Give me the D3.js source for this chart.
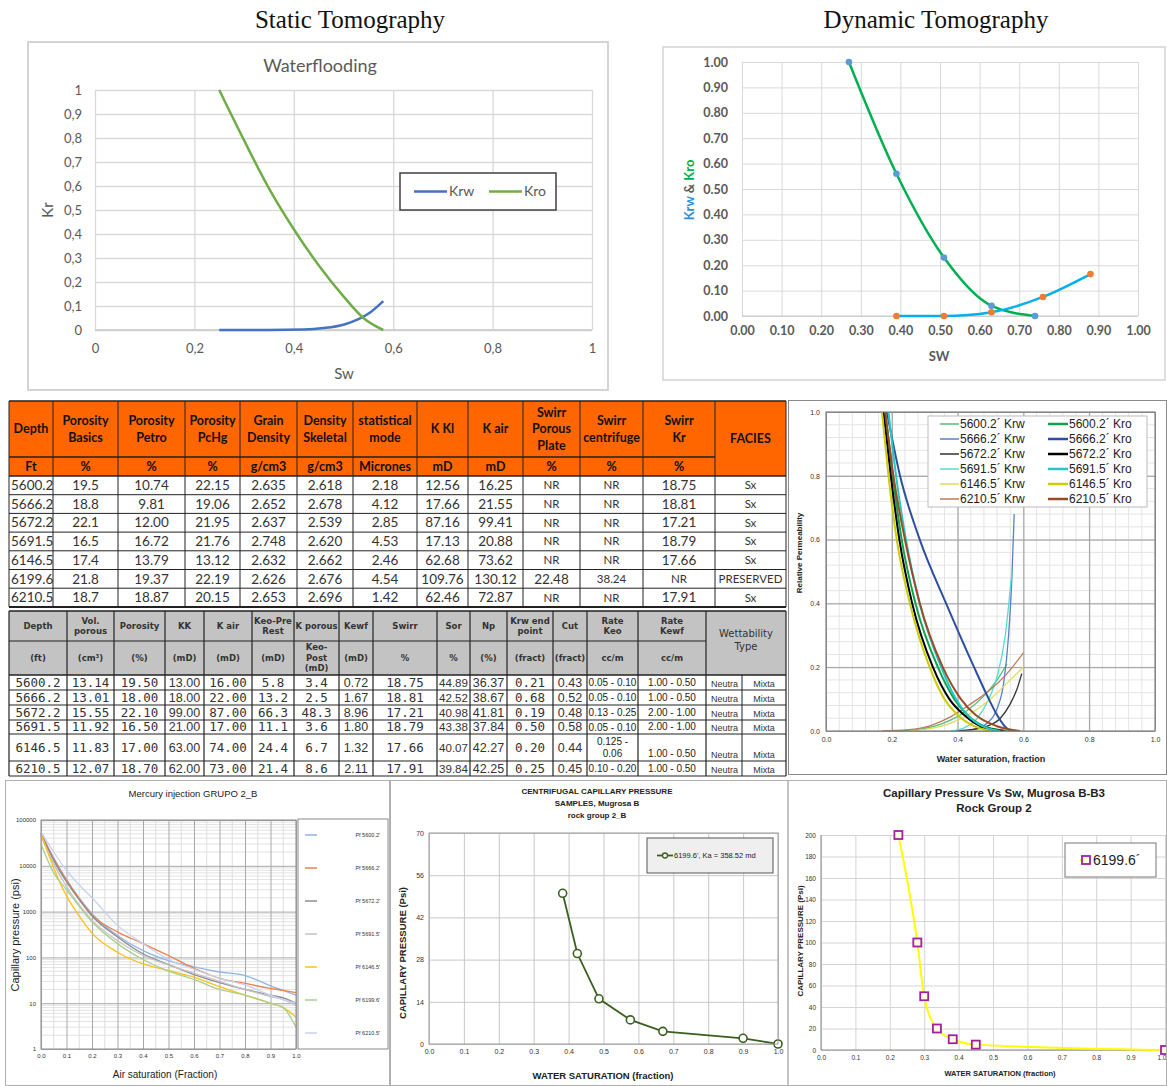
<!DOCTYPE html>
<html>
<head>
<meta charset="utf-8">
<script src="https://cdn.jsdelivr.net/npm/d3@7"></script>
<style>
  body { margin: 0; background: #fff; }
  svg { display: block; }
</style>
</head>
<body>
<svg id="fig"></svg>
<script>
const W = 1167, H = 1086
const SANS = "'Liberation Sans', Arial, sans-serif"
const LATO = "Lato, 'Open Sans', sans-serif"
const SERIF = "'Liberation Serif', 'Times New Roman', serif"
const MONO = "'DejaVu Sans Mono', monospace"
const VERD = "'DejaVu Sans', Verdana, sans-serif"

// ---- static tomography (waterflooding) ----
const wfXTicks = [0, 0.2, 0.4, 0.6, 0.8, 1]
const wfYTicks = [0, 0.1, 0.2, 0.3, 0.4, 0.5, 0.6, 0.7, 0.8, 0.9, 1]
const wfKro = [[0.25, 1.0], [0.30, 0.79], [0.35, 0.59], [0.40, 0.42], [0.45, 0.27], [0.50, 0.14], [0.54, 0.05], [0.58, 0.0]]
const wfKrw = [[0.25, 0], [0.35, 0], [0.42, 0.002], [0.46, 0.008], [0.50, 0.022], [0.53, 0.045], [0.555, 0.075], [0.58, 0.12]]

// ---- dynamic tomography ----
const dynTicks = [0, 0.1, 0.2, 0.3, 0.4, 0.5, 0.6, 0.7, 0.8, 0.9, 1]
const dynKroSw = [0.27, 0.39, 0.51, 0.63, 0.74]
const dynKro = [1.0, 0.56, 0.23, 0.04, 0.0]
const dynKrwSw = [0.39, 0.51, 0.63, 0.76, 0.88]
const dynKrw = [0.0, 0.0, 0.015, 0.075, 0.165]

// ---- table 1 ----
const t1Head = ['Depth', 'Porosity\nBasics', 'Porosity\nPetro', 'Porosity\nPcHg', 'Grain\nDensity', 'Density\nSkeletal',
  'statistical\nmode', 'K Kl', 'K air', 'Swirr\nPorous\nPlate', 'Swirr\ncentrifuge', 'Swirr\nKr', 'FACIES']
const t1Units = ['Ft', '%', '%', '%', 'g/cm3', 'g/cm3', 'Micrones', 'mD', 'mD', '%', '%', '%']
const t1Rows = [
  ['5600.2', '19.5', '10.74', '22.15', '2.635', '2.618', '2.18', '12.56', '16.25', 'NR', 'NR', '18.75', 'Sx'],
  ['5666.2', '18.8', '9.81', '19.06', '2.652', '2.678', '4.12', '17.66', '21.55', 'NR', 'NR', '18.81', 'Sx'],
  ['5672.2', '22.1', '12.00', '21.95', '2.637', '2.539', '2.85', '87.16', '99.41', 'NR', 'NR', '17.21', 'Sx'],
  ['5691.5', '16.5', '16.72', '21.76', '2.748', '2.620', '4.53', '17.13', '20.88', 'NR', 'NR', '18.79', 'Sx'],
  ['6146.5', '17.4', '13.79', '13.12', '2.632', '2.662', '2.46', '62.68', '73.62', 'NR', 'NR', '17.66', 'Sx'],
  ['6199.6', '21.8', '19.37', '22.19', '2.626', '2.676', '4.54', '109.76', '130.12', '22.48', '38.24', 'NR', 'PRESERVED'],
  ['6210.5', '18.7', '18.87', '20.15', '2.653', '2.696', '1.42', '62.46', '72.87', 'NR', 'NR', '17.91', 'Sx']
]
const t1Cols = [9, 53, 118, 185, 240, 297, 353, 417, 468, 523, 580, 643, 715, 786]

// ---- table 2 ----
const t2Head = ['Depth', 'Vol.\nporous', 'Porosity', 'KK', 'K air', 'Keo-Pre\nRest', 'K porous', 'Kewf', 'Swirr', 'Sor', 'Np',
  'Krw end\npoint', 'Cut', 'Rate\nKeo', 'Rate\nKewf', 'Wettability\nType']
const t2Units = ['(ft)', '(cm³)', '(%)', '(mD)', '(mD)', '(mD)', 'Keo-\nPost\n(mD)', '(mD)', '%', '%', '(%)', '(fract)', '(fract)', 'cc/m', 'cc/m']
const t2Rows = [
  ['5600.2', '13.14', '19.50', '13.00', '16.00', '5.8', '3.4', '0.72', '18.75', '44.89', '36.37', '0.21', '0.43', '0.05 - 0.10', '1.00 - 0.50', 'Neutra', 'Mixta'],
  ['5666.2', '13.01', '18.00', '18.00', '22.00', '13.2', '2.5', '1.67', '18.81', '42.52', '38.67', '0.68', '0.52', '0.05 - 0.10', '1.00 - 0.50', 'Neutra', 'Mixta'],
  ['5672.2', '15.55', '22.10', '99.00', '87.00', '66.3', '48.3', '8.96', '17.21', '40.98', '41.81', '0.19', '0.48', '0.13 - 0.25', '2.00 - 1.00', 'Neutra', 'Mixta'],
  ['5691.5', '11.92', '16.50', '21.00', '17.00', '11.1', '3.6', '1.80', '18.79', '43.38', '37.84', '0.50', '0.58', '0.05 - 0.10', '2.00 - 1.00', 'Neutra', 'Mixta'],
  ['6146.5', '11.83', '17.00', '63.00', '74.00', '24.4', '6.7', '1.32', '17.66', '40.07', '42.27', '0.20', '0.44', '0.125 -\n0.06', '1.00 - 0.50', 'Neutra', 'Mixta'],
  ['6210.5', '12.07', '18.70', '62.00', '73.00', '21.4', '8.6', '2.11', '17.91', '39.84', '42.25', '0.25', '0.45', '0.10 - 0.20', '1.00 - 0.50', 'Neutra', 'Mixta']
]
const t2Cols = [9, 67, 114, 165, 204, 252, 294, 339, 373, 437, 470, 507, 553, 587, 638, 706, 786]
const t2RowH = [15, 15, 15, 14, 27, 15]

// ---- relative permeability ----
const rpSamples = ['5600.2', '5666.2', '5672.2', '5691.5', '6146.5', '6210.5']
const rpKrwColors = ['#4cc07a', '#5b7fc8', '#333333', '#55dcd4', '#dede5a', '#c07a5a']
const rpKroColors = ['#12a24e', '#2c4f9e', '#000000', '#22c8c6', '#cccc00', '#9c4a26']
const rpKro = [
  [[0.18, 1.0], [0.203, 0.8], [0.23, 0.6], [0.272, 0.4], [0.34, 0.2], [0.39, 0.1], [0.43, 0.05], [0.48, 0.015], [0.55, 0]],
  [[0.185, 1.0], [0.225, 0.8], [0.285, 0.6], [0.365, 0.4], [0.45, 0.2], [0.495, 0.1], [0.52, 0.05], [0.543, 0.015], [0.56, 0]],
  [[0.175, 1.0], [0.197, 0.8], [0.223, 0.6], [0.262, 0.4], [0.325, 0.2], [0.375, 0.1], [0.42, 0.05], [0.47, 0.015], [0.54, 0]],
  [[0.19, 1.0], [0.213, 0.8], [0.243, 0.6], [0.285, 0.4], [0.35, 0.2], [0.395, 0.1], [0.43, 0.05], [0.475, 0.015], [0.53, 0]],
  [[0.17, 1.0], [0.19, 0.8], [0.215, 0.6], [0.255, 0.4], [0.315, 0.2], [0.36, 0.1], [0.40, 0.05], [0.45, 0.015], [0.50, 0]],
  [[0.18, 1.0], [0.205, 0.8], [0.24, 0.6], [0.285, 0.4], [0.355, 0.2], [0.41, 0.1], [0.455, 0.05], [0.52, 0.015], [0.59, 0]]
]
const rpKrw = [
  [[0.22, 0], [0.28, 0.005], [0.33, 0.015], [0.38, 0.035], [0.43, 0.065], [0.48, 0.11], [0.52, 0.16], [0.55, 0.21]],
  [[0.40, 0], [0.45, 0.005], [0.49, 0.025], [0.52, 0.07], [0.54, 0.15], [0.555, 0.3], [0.565, 0.48], [0.572, 0.68]],
  [[0.38, 0], [0.44, 0.004], [0.49, 0.015], [0.53, 0.04], [0.56, 0.085], [0.58, 0.13], [0.595, 0.18]],
  [[0.38, 0], [0.42, 0.01], [0.46, 0.04], [0.49, 0.09], [0.52, 0.17], [0.545, 0.3], [0.565, 0.5]],
  [[0.25, 0], [0.32, 0.008], [0.38, 0.025], [0.44, 0.055], [0.50, 0.1], [0.55, 0.15], [0.60, 0.2]],
  [[0.17, 0], [0.25, 0.004], [0.32, 0.018], [0.38, 0.045], [0.44, 0.085], [0.50, 0.13], [0.55, 0.18], [0.60, 0.245]]
]

// ---- mercury injection ----
const merSamples = ['Pf 5600.2\'', 'Pf 5666.2\'', 'Pf 5672.2\'', 'Pf 5691.5\'', 'Pf 6146.5\'', 'Pf 6199.6\'', 'Pf 6210.5\'']
const merColors = ['#8fb6e4', '#ef7f4c', '#8c8c8c', '#c4c4c4', '#ffbf1a', '#a8d08c', '#c6d2f0']
const merSat = [0, 0.05, 0.1, 0.15, 0.2, 0.3, 0.4, 0.5, 0.6, 0.7, 0.8, 0.9, 0.95, 1.0]
const merPc = [
  [50000, 15000, 5000, 2000, 900, 300, 140, 85, 62, 48, 40, 24, 19, 15],
  [52000, 14000, 4800, 1900, 850, 360, 200, 110, 58, 35, 27, 21, 19, 17],
  [50000, 13000, 4500, 1800, 800, 280, 120, 70, 42, 28, 20, 15, 13, 10],
  [45000, 11000, 3500, 1400, 650, 230, 110, 68, 45, 30, 20, 14, 12, 9],
  [50000, 9000, 2200, 800, 340, 130, 72, 52, 37, 23, 15, 10, 8, 5],
  [30000, 7000, 3000, 1300, 600, 200, 90, 50, 33, 20, 15, 10, 8, 3],
  [55000, 20000, 8000, 3800, 2000, 500, 200, 90, 55, 35, 25, 15, 12, 10]
]
const merYTicks = [1, 10, 100, 1000, 10000, 100000]
const satTicks = [0, 0.1, 0.2, 0.3, 0.4, 0.5, 0.6, 0.7, 0.8, 0.9, 1]

// ---- centrifugal capillary pressure ----
const cenSw = [0.383, 0.425, 0.487, 0.577, 0.67, 0.9, 1.0]
const cenPc = [50, 30, 15, 8, 4.2, 1.9, 0]
const cenYTicks = [0, 14, 28, 42, 56, 70]

// ---- capillary pressure rock group 2 ----
const rgSw = [0.225, 0.28, 0.30, 0.337, 0.383, 0.45, 1.0]
const rgPc = [200, 100, 50, 20, 10, 5, 0]
const rgYTicks = [0, 20, 40, 60, 80, 100, 120, 140, 160, 180, 200]

const svg = d3.select('#fig').attr('width', W).attr('height', H)
svg.append('rect').attr('width', W).attr('height', H).attr('fill', '#fff')

// o.fit shrinks the font when a line is wider than o.fit
function label(g, x, y, s, o = {}) {
  const size = o.size || 12
  const lines = String(s).split('\n')
  const lh = o.lh || size * 1.2
  const el = g.append('text')
    .attr('font-family', o.font || SANS)
    .attr('font-size', size)
    .attr('font-weight', o.weight || 'normal')
    .attr('fill', o.fill || '#222')
    .attr('text-anchor', o.anchor || 'middle')
  if (o.rotate) el.attr('transform', `translate(${x},${y}) rotate(${o.rotate})`)
  const bx = o.rotate ? 0 : x, by = o.rotate ? 0 : y
  const off = o.valign === 'bottom' ? -(lines.length - 1) * lh : -(lines.length - 1) * lh / 2
  lines.forEach((ln, i) => {
    const ts = el.append('tspan').attr('x', bx).attr('y', by + off + i * lh)
      .attr('dy', o.valign === 'bottom' ? 0 : '0.35em').text(ln)
    const w = ts.node().getComputedTextLength()
    if (o.fit && w > o.fit) ts.attr('font-size', size * o.fit / w)
  })
  return el
}

function styleAxis(a, o) {
  a.select('.domain').remove()
  a.selectAll('.tick line').attr('stroke', o.grid || '#d9d9d9').attr('stroke-width', o.gw || 1)
  a.selectAll('.tick text').attr('font-family', o.font || SANS).attr('font-size', o.size || 10)
    .attr('font-weight', o.weight || 'normal').attr('fill', o.fill || '#333')
}

function frame(x0, y0, x1, y1, stroke, sw) {
  svg.append('rect').attr('x', x0).attr('y', y0).attr('width', x1 - x0).attr('height', y1 - y0)
    .attr('fill', 'none').attr('stroke', stroke).attr('stroke-width', sw || 1)
}

// ================= titles =================
label(svg, 350, 19, 'Static Tomography', { font: SERIF, size: 25, fill: '#111' })
label(svg, 936, 19, 'Dynamic Tomography', { font: SERIF, size: 25, fill: '#111' })

// ================= waterflooding =================
function drawWaterflooding() {
  const g = svg.append('g')
  frame(28, 42, 608, 390, '#d4d4d4', 2)
  const x = d3.scaleLinear().domain([0, 1]).range([95, 592])
  const y = d3.scaleLinear().domain([0, 1]).range([330, 90])
  const fmt = d => (d === 0 || d === 1) ? String(d) : d3.format('.1f')(d).replace('.', ',')
  const ts = { grid: '#d9d9d9', gw: 1.3, font: LATO, size: 13, fill: '#595959' }
  g.append('g').call(d3.axisLeft(y).tickValues(wfYTicks).tickFormat(fmt).tickSize(-(592 - 95)).tickPadding(13))
    .attr('transform', 'translate(95,0)').call(a => styleAxis(a, ts))
  g.append('g').attr('transform', 'translate(0,330)')
    .call(d3.axisBottom(x).tickValues(wfXTicks).tickFormat(fmt).tickSize(-(330 - 90)).tickPadding(14))
    .call(a => styleAxis(a, ts))
  g.append('line').attr('x1', 95).attr('x2', 592).attr('y1', 330).attr('y2', 330).attr('stroke', '#c8c8c8').attr('stroke-width', 1.5)
  label(g, 320, 66, 'Waterflooding', { font: LATO, size: 18, fill: '#595959' })
  label(g, 344, 374, 'Sw', { font: LATO, size: 15, fill: '#595959' })
  label(g, 48, 210, 'Kr', { font: LATO, size: 15, fill: '#595959', rotate: -90 })
  const line = d3.line().x(d => x(d[0])).y(d => y(d[1])).curve(d3.curveMonotoneX)
  g.append('path').attr('d', line(wfKrw)).attr('fill', 'none').attr('stroke', '#4472c4').attr('stroke-width', 2.5)
  g.append('path').attr('d', line(wfKro)).attr('fill', 'none').attr('stroke', '#70ad47').attr('stroke-width', 2.5)
  // legend
  g.append('rect').attr('x', 400).attr('y', 173).attr('width', 156).attr('height', 37)
    .attr('fill', '#fff').attr('stroke', '#404040').attr('stroke-width', 1.5)
  const leg = [['Krw', '#4472c4', 414], ['Kro', '#70ad47', 489]]
  leg.forEach(([t, c, lx]) => {
    g.append('line').attr('x1', lx).attr('x2', lx + 33).attr('y1', 191.5).attr('y2', 191.5).attr('stroke', c).attr('stroke-width', 2.5)
    label(g, lx + 35, 191.5, t, { font: LATO, size: 14, fill: '#595959', anchor: 'start' })
  })
}
drawWaterflooding()

// ================= dynamic tomography =================
function drawDynamic() {
  const g = svg.append('g')
  frame(663, 47, 1165, 380, '#d4d4d4', 1.5)
  const x = d3.scaleLinear().domain([0, 1]).range([742, 1138])
  const y = d3.scaleLinear().domain([0, 1]).range([316, 62])
  const ts = { grid: '#d9d9d9', gw: 1, font: LATO, size: 12.5, weight: 'bold', fill: '#595959' }
  g.append('g').attr('transform', 'translate(742,0)')
    .call(d3.axisLeft(y).tickValues(dynTicks).tickFormat(d3.format('.2f')).tickSize(-(1138 - 742)).tickPadding(14))
    .call(a => styleAxis(a, ts))
  g.append('g').attr('transform', 'translate(0,316)')
    .call(d3.axisBottom(x).tickValues(dynTicks).tickFormat(d3.format('.2f')).tickSize(-(316 - 62)).tickPadding(10))
    .call(a => styleAxis(a, ts))
  g.append('line').attr('x1', 742).attr('x2', 1138).attr('y1', 316).attr('y2', 316).attr('stroke', '#c8c8c8')
  label(g, 939, 356, 'SW', { font: LATO, size: 13, weight: 'bold', fill: '#595959' })
  const yl = g.append('text').attr('transform', 'translate(689,190) rotate(-90)').attr('text-anchor', 'middle')
    .attr('font-family', LATO).attr('font-weight', 'bold').attr('font-size', 13).attr('dy', '0.35em')
  yl.append('tspan').attr('fill', '#2f8fd8').text('Krw')
  yl.append('tspan').attr('fill', '#595959').text(' & ')
  yl.append('tspan').attr('fill', '#00b050').text('Kro')
  const kro = dynKroSw.map((s, i) => [s, dynKro[i]])
  const krw = dynKrwSw.map((s, i) => [s, dynKrw[i]])
  const line = d3.line().x(d => x(d[0])).y(d => y(d[1])).curve(d3.curveMonotoneX)
  g.append('path').attr('d', line(kro)).attr('fill', 'none').attr('stroke', '#00b050').attr('stroke-width', 2.5)
  g.append('path').attr('d', line(krw)).attr('fill', 'none').attr('stroke', '#00b0f0').attr('stroke-width', 2.5)
  g.selectAll('.mo').data(kro).join('circle').attr('cx', d => x(d[0])).attr('cy', d => y(d[1])).attr('r', 3.3).attr('fill', '#5b9bd5')
  g.selectAll('.mw').data(krw).join('circle').attr('cx', d => x(d[0])).attr('cy', d => y(d[1])).attr('r', 3.3).attr('fill', '#ed7d31')
}
drawDynamic()

// ================= table 1 =================
function drawTable1() {
  const g = svg.append('g')
  const x = t1Cols, top = 401, mid = 457, dataTop = 476, rh = 18.7
  const bottom = dataTop + rh * t1Rows.length
  const x0 = x[0], x1 = x[x.length - 1]
  g.append('rect').attr('x', x0).attr('y', top).attr('width', x1 - x0).attr('height', dataTop - top).attr('fill', '#ff6600')
  t1Head.forEach((h, i) => {
    const cx = (x[i] + x[i + 1]) / 2
    const cy = i === t1Head.length - 1 ? (top + dataTop) / 2 : (top + mid) / 2
    label(g, cx, cy, h, { font: LATO, size: 12.5, weight: 'bold', fill: '#111', lh: 16.5, fit: x[i + 1] - x[i] - 3 })
  })
  t1Units.forEach((u, i) => label(g, (x[i] + x[i + 1]) / 2, (mid + dataTop) / 2, u,
    { font: LATO, size: 12.5, weight: 'bold', fill: '#111', fit: x[i + 1] - x[i] - 3 }))
  t1Rows.forEach((r, ri) => r.forEach((v, ci) => {
    const cy = dataTop + rh * (ri + 0.5)
    const small = ['NR', 'Sx', 'PRESERVED', '38.24'].includes(v) && ci >= 9
    if (ci === 0) label(g, x[0] + 2, cy, v, { font: LATO, size: 13.5, fill: '#333', anchor: 'start' })
    else label(g, (x[ci] + x[ci + 1]) / 2, cy, v, { font: LATO, size: small ? 11.5 : 13.5, fill: '#333', fit: x[ci + 1] - x[ci] - 3 })
  }))
  const ln = (a, b, c, d, w) => g.append('line').attr('x1', a).attr('y1', b).attr('x2', c).attr('y2', d)
    .attr('stroke', '#222').attr('stroke-width', w || 1)
  x.forEach(xx => ln(xx, top, xx, bottom, 1))
  ln(x0, top, x1, top, 1.5)
  ln(x0, mid, x[x.length - 2], mid, 1.5)
  ln(x0, dataTop, x1, dataTop, 1.5)
  t1Rows.forEach((r, ri) => ln(x0, dataTop + rh * (ri + 1), x1, dataTop + rh * (ri + 1), 1))
  ln(x0, bottom, x1, bottom, 2)
}
drawTable1()

// ================= table 2 =================
function drawTable2() {
  const g = svg.append('g')
  const x = t2Cols, top = 611, mid = 641, dataTop = 675
  const x0 = x[0], x1 = x[x.length - 1]
  const rowY = [dataTop]
  t2RowH.forEach(h => rowY.push(rowY[rowY.length - 1] + h))
  const bottom = rowY[rowY.length - 1]
  const wetSplit = 742
  g.append('rect').attr('x', x0).attr('y', top).attr('width', x1 - x0).attr('height', dataTop - top).attr('fill', '#c3c3c3')
  t2Head.forEach((h, i) => {
    const cx = (x[i] + x[i + 1]) / 2
    if (i === t2Head.length - 1)
      label(g, cx, (top + dataTop) / 2 - 3, h, { font: VERD, size: 10, fill: '#333', lh: 13 })
    else label(g, cx, (top + mid) / 2, h, { font: VERD, size: 8.5, weight: 'bold', fill: '#333', lh: 10.5, fit: x[i + 1] - x[i] - 3 })
  })
  t2Units.forEach((u, i) => label(g, (x[i] + x[i + 1]) / 2, (mid + dataTop) / 2, u,
    { font: VERD, size: 8.5, weight: 'bold', fill: '#333', lh: 10.5, fit: x[i + 1] - x[i] - 3 }))
  t2Rows.forEach((r, ri) => {
    const yT = rowY[ri], yB = rowY[ri + 1], cy = (yT + yB) / 2
    r.forEach((v, ci) => {
      if (ci === 15) { label(g, wetSplit - 4, yB - 3, v, { font: SANS, size: 9, fill: '#333', anchor: 'end', valign: 'bottom' }); return }
      if (ci === 16) { label(g, (wetSplit + x1) / 2, yB - 3, v, { font: SANS, size: 9, fill: '#333', valign: 'bottom' }); return }
      const cx = (x[ci] + x[ci + 1]) / 2, cw = x[ci + 1] - x[ci]
      if (ci === 13) label(g, cx, cy, v, { font: SANS, size: 10, fill: '#222', lh: 12, fit: cw - 2 })
      else if (ci === 14) label(g, cx, yB - 7.5, v, { font: SANS, size: 10, fill: '#222' })
      else if (v.length * 0.602 * 12.5 <= cw - 4) label(g, cx, cy, v, { font: MONO, size: 12.5, fill: '#333' })
      else label(g, cx, cy, v, { font: SANS, size: 12.5, fill: '#333', fit: cw - 4 })
    })
  })
  const ln = (a, b, c, d, w) => g.append('line').attr('x1', a).attr('y1', b).attr('x2', c).attr('y2', d)
    .attr('stroke', '#222').attr('stroke-width', w || 1)
  x.forEach(xx => ln(xx, top, xx, bottom, 1.2))
  ln(wetSplit, dataTop, wetSplit, bottom, 1)
  ln(x0, top, x1, top, 1.5)
  ln(x0, mid, x[x.length - 2], mid, 1.2)
  rowY.forEach((yy, i) => ln(x0, yy, x1, yy, i === 0 ? 1.5 : 1.2))
}
drawTable2()

// ================= relative permeability =================
function drawRelPerm() {
  const g = svg.append('g')
  frame(788.5, 400.5, 1166.5, 774.5, '#8a8a8a', 1)
  const x = d3.scaleLinear().domain([0, 1]).range([826, 1155])
  const y = d3.scaleLinear().domain([0, 1]).range([731, 412])
  const minor = d3.range(0, 1.0001, 0.04)
  g.append('g').selectAll('line').data(minor).join('line')
    .attr('x1', d => x(d)).attr('x2', d => x(d)).attr('y1', y(0)).attr('y2', y(1)).attr('stroke', '#e4e4e4')
  g.append('g').selectAll('line').data(minor).join('line')
    .attr('y1', d => y(d)).attr('y2', d => y(d)).attr('x1', x(0)).attr('x2', x(1)).attr('stroke', '#e4e4e4')
  const major = [0, 0.2, 0.4, 0.6, 0.8, 1]
  const ts = { grid: '#9a9a9a', gw: 1, font: SANS, size: 7, fill: '#333' }
  g.append('g').attr('transform', 'translate(826,0)')
    .call(d3.axisLeft(y).tickValues(major).tickFormat(d3.format('.1f')).tickSize(-(1155 - 826)).tickPadding(6))
    .call(a => styleAxis(a, ts))
  g.append('g').attr('transform', 'translate(0,731)')
    .call(d3.axisBottom(x).tickValues(major).tickFormat(d3.format('.1f')).tickSize(-(731 - 412)).tickPadding(6))
    .call(a => styleAxis(a, ts))
  frame(826, 412, 1155, 731, '#777', 1)
  label(g, 991, 759, 'Water saturation, fraction', { size: 9, weight: 'bold', fill: '#222' })
  label(g, 799, 553, 'Relative Permeability', { size: 8, weight: 'bold', fill: '#222', rotate: -90 })
  const line = d3.line().x(d => x(d[0])).y(d => y(d[1])).curve(d3.curveMonotoneX)
  g.append('clipPath').attr('id', 'rpclip').append('rect').attr('x', 826).attr('y', 412).attr('width', 329).attr('height', 319)
  const cg = g.append('g').attr('clip-path', 'url(#rpclip)')
  rpKrw.forEach((c, i) => cg.append('path').attr('d', line(c)).attr('fill', 'none').attr('stroke', rpKrwColors[i]).attr('stroke-width', 1.3))
  rpKro.forEach((c, i) => cg.append('path').attr('d', line(c)).attr('fill', 'none').attr('stroke', rpKroColors[i]).attr('stroke-width', 2))
  // legend
  g.append('rect').attr('x', 928).attr('y', 416).attr('width', 219).attr('height', 91).attr('fill', '#fff').attr('stroke', '#bbb')
  rpSamples.forEach((s, i) => {
    const ly = 424 + i * 15
    g.append('line').attr('x1', 940).attr('x2', 959).attr('y1', ly).attr('y2', ly).attr('stroke', rpKrwColors[i]).attr('stroke-width', 1.5)
    label(g, 960, ly, `${s}´ Krw`, { size: 12, fill: '#222', anchor: 'start' })
    g.append('line').attr('x1', 1048).attr('x2', 1068).attr('y1', ly).attr('y2', ly).attr('stroke', rpKroColors[i]).attr('stroke-width', 2.5)
    label(g, 1069, ly, `${s}´ Kro`, { size: 12, fill: '#222', anchor: 'start' })
  })
}
drawRelPerm()

// ================= mercury injection =================
function drawMercury() {
  const g = svg.append('g')
  frame(5.5, 780.5, 389.5, 1085.5, '#b0b0b0', 1)
  const x = d3.scaleLinear().domain([0, 1]).range([41, 296])
  const y = d3.scaleLog().domain([1, 100000]).range([1049, 820])
  const minorY = []
  merYTicks.slice(0, -1).forEach(d => d3.range(2, 10).forEach(k => minorY.push(d * k)))
  g.append('g').selectAll('line').data(minorY).join('line')
    .attr('y1', d => y(d)).attr('y2', d => y(d)).attr('x1', x(0)).attr('x2', x(1)).attr('stroke', '#e2e2e2')
  g.append('g').selectAll('line').data(d3.range(0.05, 1, 0.1)).join('line')
    .attr('x1', d => x(d)).attr('x2', d => x(d)).attr('y1', y(1)).attr('y2', y(100000)).attr('stroke', '#dedede')
  const ts = { grid: '#a8a8a8', gw: 1, font: SANS, size: 6, fill: '#333' }
  g.append('g').attr('transform', 'translate(41,0)')
    .call(d3.axisLeft(y).tickValues(merYTicks).tickFormat(d3.format('d')).tickSize(-(296 - 41)).tickPadding(5))
    .call(a => styleAxis(a, ts))
  g.append('g').attr('transform', 'translate(0,1049)')
    .call(d3.axisBottom(x).tickValues(satTicks).tickFormat(d3.format('.1f')).tickSize(-(1049 - 820)).tickPadding(5))
    .call(a => styleAxis(a, ts))
  frame(41, 820, 296, 1049, '#8a8a8a', 1)
  label(g, 193, 794, 'Mercury injection  GRUPO 2_B', { size: 9.5, fill: '#222' })
  label(g, 15, 935, 'Capillary pressure (psi)', { size: 11, fill: '#222', rotate: -90 })
  label(g, 165, 1074, 'Air saturation (Fraction)', { size: 10, fill: '#222' })
  const line = d3.line().x(d => x(d[0])).y(d => y(d[1])).curve(d3.curveMonotoneX)
  merPc.forEach((p, i) => g.append('path').attr('d', line(merSat.map((s, k) => [s, p[k]])))
    .attr('fill', 'none').attr('stroke', merColors[i]).attr('stroke-width', 1.3))
  g.append('rect').attr('x', 298).attr('y', 819).attr('width', 90).attr('height', 230).attr('fill', '#fff').attr('stroke', '#8a8a8a')
  merSamples.forEach((s, i) => {
    const ly = 835 + i * 33
    g.append('line').attr('x1', 305).attr('x2', 317).attr('y1', ly).attr('y2', ly).attr('stroke', merColors[i]).attr('stroke-width', 1.5)
    label(g, 380, ly, s, { size: 5.5, fill: '#333', anchor: 'end' })
  })
}
drawMercury()

// ================= centrifugal =================
function drawCentrifugal() {
  const g = svg.append('g')
  frame(390.5, 780.5, 788, 1085.5, '#b0b0b0', 1)
  const x = d3.scaleLinear().domain([0, 1]).range([429, 778])
  const y = d3.scaleLinear().domain([0, 70]).range([1044, 833])
  const ts = { grid: '#c8c8c8', gw: 1, font: SANS, size: 7, fill: '#333' }
  g.append('g').attr('transform', 'translate(429,0)')
    .call(d3.axisLeft(y).tickValues(cenYTicks).tickSize(-(778 - 429)).tickPadding(5))
    .call(a => styleAxis(a, ts))
  g.append('g').attr('transform', 'translate(0,1044)')
    .call(d3.axisBottom(x).tickValues(satTicks).tickFormat(d3.format('.1f')).tickSize(-(1044 - 833)).tickPadding(5))
    .call(a => styleAxis(a, ts))
  frame(429, 833, 778, 1044, '#9a9a9a', 1)
  label(g, 597, 803, 'CENTRIFUGAL CAPILLARY PRESSURE\nSAMPLES, Mugrosa B\nrock group 2_B', { size: 8, weight: 'bold', fill: '#222', lh: 12 })
  label(g, 603, 1076, 'WATER SATURATION  (fraction)', { size: 9.5, weight: 'bold', fill: '#222' })
  label(g, 403, 953, 'CAPILLARY  PRESSURE  (Psi)', { size: 9.5, weight: 'bold', fill: '#222', rotate: -90 })
  const pts = cenSw.map((s, i) => [s, cenPc[i]])
  const line = d3.line().x(d => x(d[0])).y(d => y(d[1]))
  g.append('path').attr('d', line(pts)).attr('fill', 'none').attr('stroke', '#3a5f1e').attr('stroke-width', 1.8)
  g.selectAll('.pt').data(pts).join('circle').attr('cx', d => x(d[0])).attr('cy', d => y(d[1])).attr('r', 4)
    .attr('fill', '#fff').attr('stroke', '#3a5f1e').attr('stroke-width', 1.6)
  g.append('rect').attr('x', 647).attr('y', 838).attr('width', 126).attr('height', 35).attr('fill', '#efefef').attr('stroke', '#555')
  g.append('line').attr('x1', 657).attr('x2', 673).attr('y1', 855.5).attr('y2', 855.5).attr('stroke', '#3a5f1e').attr('stroke-width', 1.8)
  g.append('circle').attr('cx', 665).attr('cy', 855.5).attr('r', 2.5).attr('fill', '#efefef').attr('stroke', '#3a5f1e').attr('stroke-width', 1.3)
  label(g, 674, 855.5, '6199.6\', Ka = 358.52 md', { size: 7.5, fill: '#222', anchor: 'start' })
}
drawCentrifugal()

// ================= rock group 2 =================
function drawRockGroup() {
  const g = svg.append('g')
  frame(788, 780.5, 1166.5, 1085.5, '#b0b0b0', 1)
  const x = d3.scaleLinear().domain([0, 1]).range([821, 1165])
  const y = d3.scaleLinear().domain([0, 200]).range([1050, 835])
  const ts = { grid: '#d4d4d4', gw: 1, font: SANS, size: 6.5, fill: '#333' }
  g.append('g').attr('transform', 'translate(821,0)')
    .call(d3.axisLeft(y).tickValues(rgYTicks).tickSize(-(1165 - 821)).tickPadding(5))
    .call(a => styleAxis(a, ts))
  g.append('g').attr('transform', 'translate(0,1050)')
    .call(d3.axisBottom(x).tickValues(satTicks).tickFormat(d3.format('.1f')).tickSize(-(1050 - 835)).tickPadding(5))
    .call(a => styleAxis(a, ts))
    .call(a => a.selectAll('.tick text').filter(d => d === 1).attr('text-anchor', 'end').attr('dx', 1))
  g.append('line').attr('x1', 821).attr('x2', 821).attr('y1', 835).attr('y2', 1050).attr('stroke', '#888')
  g.append('line').attr('x1', 821).attr('x2', 1165).attr('y1', 1050).attr('y2', 1050).attr('stroke', '#888')
  label(g, 994, 800, 'Capillary Pressure Vs Sw, Mugrosa B-B3\nRock Group 2', { size: 11.5, weight: 'bold', fill: '#222', lh: 15 })
  label(g, 1000, 1073, 'WATER SATURATION  (fraction)', { size: 7.5, weight: 'bold', fill: '#222' })
  label(g, 800, 941, 'CAPILLARY PRESSURE (Psi)', { size: 8, weight: 'bold', fill: '#222', rotate: -90 })
  const pts = rgSw.map((s, i) => [s, rgPc[i]])
  const line = d3.line().x(d => x(d[0])).y(d => y(d[1])).curve(d3.curveMonotoneX)
  g.append('path').attr('d', line(pts)).attr('fill', 'none').attr('stroke', '#ffff00').attr('stroke-width', 2)
  g.selectAll('.pt').data(pts).join('rect').attr('x', d => x(d[0]) - 4).attr('y', d => y(d[1]) - 4)
    .attr('width', 8).attr('height', 8).attr('fill', '#fffde0').attr('stroke', '#a020a0').attr('stroke-width', 1.8)
  g.append('rect').attr('x', 1065).attr('y', 843).attr('width', 91).attr('height', 34).attr('fill', '#fff').attr('stroke', '#777')
  g.append('line').attr('x1', 1080).attr('x2', 1090).attr('y1', 860).attr('y2', 860).attr('stroke', '#ffff00').attr('stroke-width', 2)
  g.append('rect').attr('x', 1082).attr('y', 856).attr('width', 8).attr('height', 8).attr('fill', '#fffde0').attr('stroke', '#a020a0').attr('stroke-width', 1.8)
  label(g, 1093, 860, '6199.6´', { size: 14, fill: '#222', anchor: 'start' })
}
drawRockGroup()
</script>
</body>
</html>
